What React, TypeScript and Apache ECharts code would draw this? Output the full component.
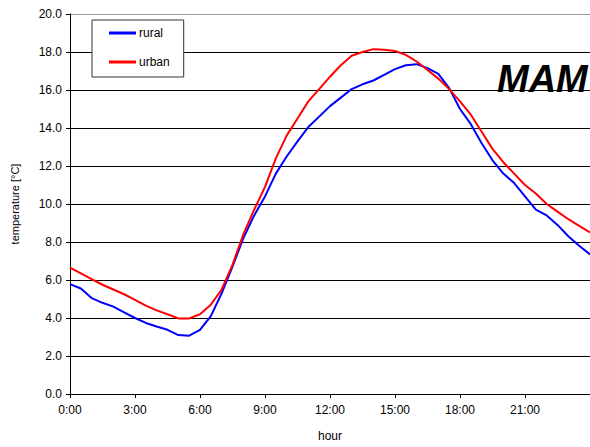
import React, { useEffect, useRef } from "react";
import * as echarts from "echarts";

const hours = [
  0, 0.5, 1, 1.5, 2, 2.5, 3, 3.5, 4, 4.5, 5, 5.5, 6, 6.5, 7, 7.5, 8, 8.5, 9, 9.5,
  10, 10.5, 11, 11.5, 12, 12.5, 13, 13.5, 14, 14.5, 15, 15.5, 16, 16.5, 17, 17.5,
  18, 18.5, 19, 19.5, 20, 20.5, 21, 21.5, 22, 22.5, 23, 23.5, 24,
];

const rural = [
  5.78, 5.55, 5.05, 4.8, 4.6, 4.3, 4.0, 3.74, 3.55, 3.38, 3.1, 3.07, 3.37, 4.1,
  5.3, 6.7, 8.2, 9.4, 10.4, 11.6, 12.5, 13.3, 14.05, 14.6, 15.15, 15.6, 16.05,
  16.3, 16.5, 16.8, 17.1, 17.3, 17.36, 17.15, 16.85, 16.1, 15.0, 14.2, 13.2,
  12.3, 11.6, 11.1, 10.4, 9.7, 9.4, 8.9, 8.3, 7.8, 7.35,
];

const urban = [
  6.65, 6.35, 6.05, 5.75, 5.5, 5.25, 4.95, 4.65, 4.4, 4.2, 3.98, 3.98, 4.2, 4.7,
  5.5, 6.8, 8.4, 9.7, 10.9, 12.4, 13.6, 14.5, 15.4, 16.05, 16.7, 17.3, 17.8,
  18.0, 18.15, 18.12, 18.05, 17.85, 17.5, 17.05, 16.6, 16.05, 15.4, 14.7, 13.8,
  12.9, 12.2, 11.6, 11.0, 10.55, 10.0, 9.6, 9.2, 8.85, 8.5,
];

const seriesNames = ["rural", "urban"];
const seasonLabel = "MAM";

export default function App() {
  const ref = useRef<HTMLDivElement>(null);
  useEffect(() => {
    if (!ref.current) return;
    const chart = echarts.init(ref.current, undefined, { renderer: "svg" });
    const font = "'Liberation Sans', Arial, sans-serif";
    chart.setOption({
      animation: false,
      backgroundColor: "#ffffff",
      textStyle: { fontFamily: font },
      grid: { left: 70, right: 0, top: 14, bottom: 51, containLabel: false },
      legend: {
        orient: "vertical",
        left: 92,
        top: 20,
        padding: [7, 14, 9, 17],
        itemGap: 17,
        itemWidth: 27,
        itemHeight: 3,
        icon: "rect",
        borderColor: "#333",
        borderWidth: 1,
        backgroundColor: "#fff",
        textStyle: { fontFamily: font, fontSize: 12, color: "#000", padding: [0, 0, 0, -2] },
        data: seriesNames,
      },
      graphic: [
        {
          type: "text",
          left: 497,
          top: 60,
          style: {
            text: seasonLabel,
            font: `italic bold 38px ${font}`,
            fill: "#000",
          },
        },
      ],
      xAxis: {
        type: "value",
        min: 0,
        max: 24,
        interval: 3,
        name: "hour",
        nameLocation: "middle",
        nameGap: 36,
        nameTextStyle: { fontSize: 12, color: "#000" },
        axisLine: { show: true, lineStyle: { color: "#000", width: 1 } },
        axisTick: { show: true, length: 4, lineStyle: { color: "#000" } },
        axisLabel: {
          fontSize: 12,
          color: "#000",
          margin: 10,
          showMaxLabel: false,
          formatter: (v: number) => (v >= 24 ? "" : `${v}:00`),
        },
        splitLine: { show: false },
      },
      yAxis: {
        type: "value",
        min: 0,
        max: 20,
        interval: 2,
        name: "temperature [°C]",
        nameLocation: "middle",
        nameGap: 50,
        nameTextStyle: { fontSize: 11, color: "#000" },
        axisLine: { show: true, lineStyle: { color: "#000", width: 1 } },
        axisTick: { show: true, length: 4, lineStyle: { color: "#000" } },
        axisLabel: {
          fontSize: 12,
          color: "#000",
          margin: 8,
          formatter: (v: number) => v.toFixed(1),
        },
        splitLine: {
          show: true,
          lineStyle: {
            color: ["#000", "#000", "#000", "#000", "#000", "#000", "#000", "#000", "#000", "#000", "#999"],
            width: 1,
          },
        },
      },
      series: [
        {
          name: seriesNames[0],
          type: "line",
          data: hours.map((h, i) => [h, rural[i]]),
          showSymbol: false,
          symbol: "none",
          lineStyle: { color: "#0000ff", width: 2 },
          itemStyle: { color: "#0000ff" },
        },
        {
          name: seriesNames[1],
          type: "line",
          data: hours.map((h, i) => [h, urban[i]]),
          showSymbol: false,
          symbol: "none",
          lineStyle: { color: "#ff0000", width: 2 },
          itemStyle: { color: "#ff0000" },
        },
      ],
    });
    return () => chart.dispose();
  }, []);
  return <div ref={ref} style={{ width: 590, height: 447, position: "absolute", left: 0, top: 0 }} />;
}
